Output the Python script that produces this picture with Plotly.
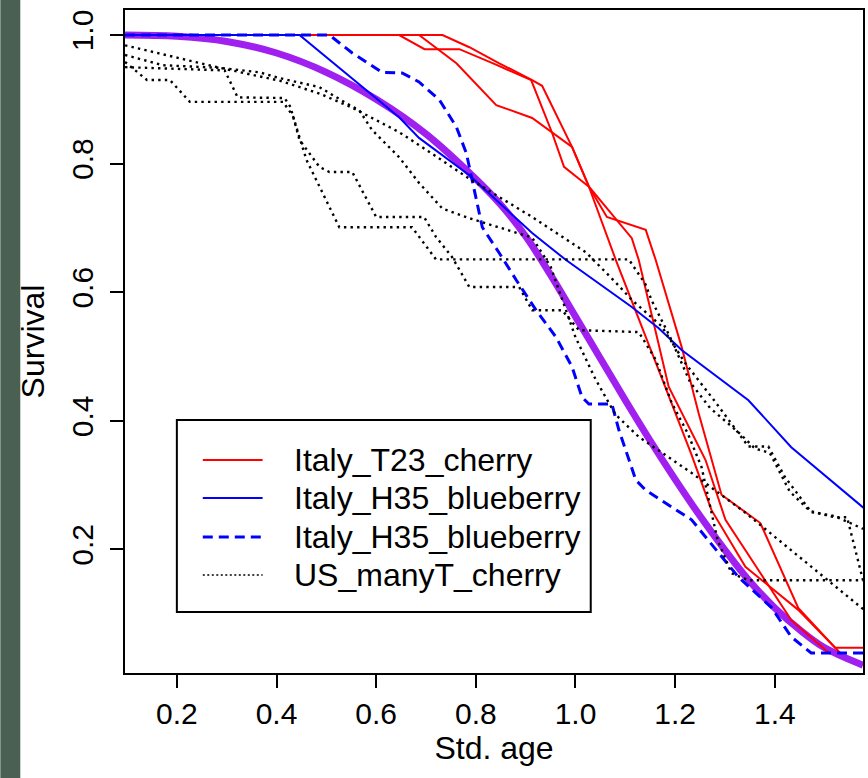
import plotly.graph_objects as go

# ---------------- data ----------------
x_ticks = [0.2, 0.4, 0.6, 0.8, 1.0, 1.2, 1.4]
x_tick_labels = ["0.2", "0.4", "0.6", "0.8", "1.0", "1.2", "1.4"]
y_ticks = [0.2, 0.4, 0.6, 0.8, 1.0]
y_tick_labels = ["0.2", "0.4", "0.6", "0.8", "1.0"]

# model curve (thick purple)
model_x = [0.096, 0.2, 0.3, 0.4, 0.5, 0.6, 0.7, 0.8, 0.85, 0.9, 0.95, 1.0,
           1.05, 1.1, 1.15, 1.2, 1.25, 1.3, 1.35, 1.4, 1.45, 1.5, 1.577]
model_y = [1.0, 0.998, 0.99, 0.972, 0.942, 0.900, 0.846, 0.776, 0.736, 0.687, 0.627, 0.562,
           0.497, 0.432, 0.369, 0.309, 0.252, 0.199, 0.150, 0.109, 0.075, 0.047, 0.020]

# Italy_T23_cherry (red, three replicates)
red1_x = [0.096, 0.646, 0.697, 0.767, 0.837, 0.911, 0.953, 0.977, 1.027, 1.081,
          1.167, 1.233, 1.273, 1.341, 1.447, 1.517, 1.53]
red1_y = [1.0, 1.0, 0.978, 0.978, 0.955, 0.930, 0.848, 0.795, 0.764, 0.650,
          0.479, 0.347, 0.261, 0.173, 0.106, 0.051, 0.040]
red2_x = [0.096, 0.733, 0.787, 0.847, 0.913, 0.933, 0.993, 1.027, 1.063, 1.141,
          1.161, 1.213, 1.247, 1.293, 1.371, 1.447, 1.521, 1.577]
red2_y = [1.0, 1.0, 0.981, 0.956, 0.930, 0.921, 0.826, 0.764, 0.717, 0.697,
          0.650, 0.515, 0.412, 0.285, 0.241, 0.109, 0.047, 0.047]
red3_x = [0.096, 0.686, 0.761, 0.841, 0.913, 0.993, 1.027, 1.113, 1.127, 1.187,
          1.261, 1.301, 1.367, 1.433, 1.507]
red3_y = [1.0, 1.0, 0.956, 0.891, 0.871, 0.826, 0.764, 0.684, 0.650, 0.453,
          0.339, 0.246, 0.168, 0.090, 0.040]

# Italy_H35_blueberry (blue solid)
blue_x = [0.096, 0.446, 0.646, 0.686, 0.787, 0.847, 0.913, 0.981, 1.047, 1.113,
          1.167, 1.213, 1.347, 1.433, 1.579]
blue_y = [1.0, 1.0, 0.872, 0.840, 0.782, 0.739, 0.692, 0.650, 0.614, 0.577,
          0.544, 0.510, 0.432, 0.359, 0.264]

# Italy_H35_blueberry (blue dashed)
bluedash_x = [0.096, 0.506, 0.552, 0.612, 0.652, 0.686, 0.727, 0.761, 0.781, 0.793,
              0.813, 0.847, 0.881, 0.921, 0.961, 0.993, 1.013, 1.027, 1.073, 1.087,
              1.121, 1.141, 1.233, 1.327, 1.393, 1.433, 1.473, 1.579]
bluedash_y = [1.0, 1.0, 0.972, 0.942, 0.941, 0.927, 0.899, 0.857, 0.816, 0.774,
              0.701, 0.661, 0.619, 0.572, 0.530, 0.484, 0.437, 0.426, 0.426, 0.386,
              0.308, 0.292, 0.246, 0.157, 0.110, 0.064, 0.039, 0.039]

# US_manyT_cherry (black dotted, four replicates)
us1_x = [0.096, 0.286, 0.406, 0.486, 0.552, 0.646, 0.713, 0.78, 0.847, 0.913,
         1.021, 1.081, 1.113, 1.173, 1.22, 1.28, 1.347, 1.387, 1.42, 1.473,
         1.52, 1.577]
us1_y = [0.984, 0.949, 0.929, 0.909, 0.887, 0.849, 0.815, 0.780, 0.748, 0.717,
         0.662, 0.615, 0.588, 0.547, 0.490, 0.430, 0.360, 0.360, 0.313, 0.258,
         0.252, 0.232]
us2_x = [0.096, 0.172, 0.286, 0.366, 0.406, 0.486, 0.540, 0.566, 0.592, 0.646,
         0.686, 0.733, 0.787, 0.85, 0.913, 0.95, 0.967, 1.0, 1.04, 1.08,
         1.127, 1.233, 1.341, 1.433, 1.579]
us2_y = [0.969, 0.953, 0.949, 0.942, 0.933, 0.919, 0.894, 0.883, 0.852, 0.810,
         0.770, 0.730, 0.715, 0.700, 0.685, 0.640, 0.603, 0.530, 0.465, 0.410,
         0.375, 0.319, 0.257, 0.199, 0.106]
us3_x = [0.096, 0.14, 0.186, 0.226, 0.413, 0.433, 0.46, 0.50, 0.526, 0.672,
         0.72, 1.107, 1.14, 1.153, 1.19, 1.23, 1.27, 1.33, 1.36, 1.39,
         1.43, 1.47, 1.52, 1.545, 1.577]
us3_y = [0.958, 0.930, 0.930, 0.896, 0.896, 0.874, 0.806, 0.743, 0.701, 0.701,
         0.651, 0.651, 0.613, 0.587, 0.530, 0.460, 0.420, 0.380, 0.357, 0.350,
         0.290, 0.260, 0.250, 0.250, 0.152]
us4_x = [0.096, 0.296, 0.322, 0.416, 0.428, 0.446, 0.486, 0.506, 0.552, 0.60,
         0.696, 0.72, 0.752, 0.787, 0.887, 0.913, 0.973, 1.007, 1.127, 1.161,
         1.193, 1.225, 1.253, 1.285, 1.313, 1.347, 1.577]
us4_y = [0.950, 0.945, 0.903, 0.902, 0.888, 0.837, 0.795, 0.787, 0.787, 0.717,
         0.717, 0.686, 0.655, 0.608, 0.608, 0.572, 0.572, 0.541, 0.538, 0.495,
         0.428, 0.381, 0.328, 0.215, 0.163, 0.152, 0.152]

legend_labels = ["Italy_T23_cherry", "Italy_H35_blueberry", "Italy_H35_blueberry", "US_manyT_cherry"]

# ---------------- styles ----------------
FONT = "Liberation Sans, Arial, sans-serif"
RED = dict(color="#FF0000", width=2)
BLUE = dict(color="#0000FF", width=2)
BLUEDASH = dict(color="#0000FF", width=3, dash="10px,6px")
DOT = dict(color="#000000", width=2.4, dash="2.4px,4.2px")
legend_styles = [RED, BLUE, BLUEDASH, dict(color="#000000", width=1.3, dash="2px,2.5px")]

fig = go.Figure()

fig.add_trace(go.Scatter(x=model_x, y=model_y, mode="lines", showlegend=False,
                         line=dict(color="#A020F0", width=7, shape="spline", smoothing=1.0),
                         hoverinfo="skip"))

for xs, ys in [(red1_x, red1_y), (red2_x, red2_y), (red3_x, red3_y)]:
    fig.add_trace(go.Scatter(x=xs, y=ys, mode="lines", name=legend_labels[0],
                             showlegend=False, line=RED))

fig.add_trace(go.Scatter(x=blue_x, y=blue_y, mode="lines", name=legend_labels[1],
                         showlegend=False, line=BLUE))

fig.add_trace(go.Scatter(x=bluedash_x, y=bluedash_y, mode="lines", name=legend_labels[2],
                         showlegend=False, line=BLUEDASH))

for xs, ys in [(us1_x, us1_y), (us2_x, us2_y), (us3_x, us3_y), (us4_x, us4_y)]:
    fig.add_trace(go.Scatter(x=xs, y=ys, mode="lines", name=legend_labels[3],
                             showlegend=False, line=DOT))

W, H = 868, 778
ML, MR, MT, MB = 125, 3, 10, 105
pw, ph = W - ML - MR, H - MT - MB


def px(xp):
    return (xp - ML) / pw


def py(yp):
    return 1 - (yp - MT) / ph


shapes = [dict(type="rect", xref="paper", yref="paper",
               x0=-ML / pw, x1=(20 - ML) / pw, y0=-MB / ph, y1=1 + MT / ph,
               fillcolor="#4a6052", line=dict(width=0), layer="below")]

# legend box (drawn like R's legend())
LEG_L, LEG_R, LEG_T, LEG_B = 177, 592, 420, 612
shapes.append(dict(type="rect", xref="paper", yref="paper",
                   x0=px(LEG_L), x1=px(LEG_R), y0=py(LEG_B), y1=py(LEG_T),
                   fillcolor="white", line=dict(color="black", width=2), layer="above"))
annotations = []
row_y = [460, 498, 537, 575]
for lab, sty, yy in zip(legend_labels, legend_styles, row_y):
    shapes.append(dict(type="line", xref="paper", yref="paper",
                       x0=px(203), x1=px(263), y0=py(yy), y1=py(yy),
                       line=sty, layer="above"))
    annotations.append(dict(text=lab, xref="paper", yref="paper", x=px(292), y=py(yy),
                            xanchor="left", yanchor="middle", showarrow=False,
                            font=dict(family=FONT, size=32, color="black")))

fig.update_layout(
    width=W, height=H,
    margin=dict(l=ML, r=MR, t=MT, b=MB, pad=0),
    paper_bgcolor="white", plot_bgcolor="white",
    font=dict(family=FONT, size=30, color="black"),
    showlegend=False,
    xaxis=dict(range=[0.0959, 1.577], tickvals=x_ticks, ticktext=x_tick_labels,
               showgrid=False, zeroline=False, showline=True, linecolor="black",
               linewidth=2, mirror=True, ticks="outside", ticklen=13, tickwidth=2,
               tickcolor="black", tickfont=dict(size=30),
               title=dict(text="Std. age", font=dict(size=32), standoff=8)),
    yaxis=dict(range=[0.0078, 1.0389], tickvals=y_ticks, ticktext=y_tick_labels,
               showgrid=False, zeroline=False, showline=True, linecolor="black",
               linewidth=2, mirror=True, ticks="outside", ticklen=13, tickwidth=2,
               tickcolor="black", tickangle=-90, tickfont=dict(size=30),
               ticklabelstandoff=5,
               title=dict(text="Survival", font=dict(size=32), standoff=12)),
    shapes=shapes,
    annotations=annotations,
)

fig.write_html("out.html")
